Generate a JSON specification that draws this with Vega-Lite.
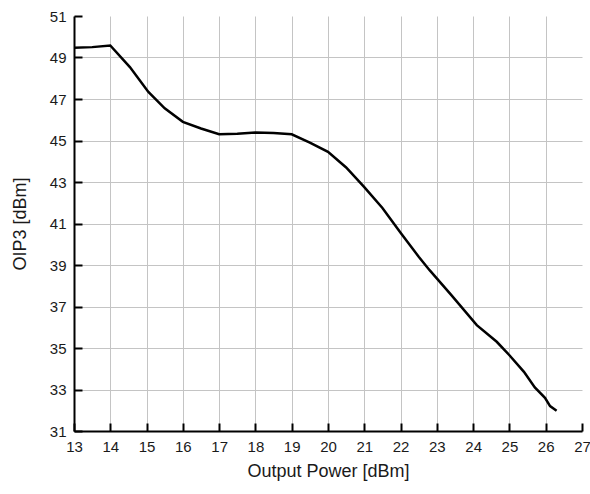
{
  "$schema": "https://vega.github.io/schema/vega-lite/v6.json",
  "autosize": "none",
  "width": 508,
  "height": 415,
  "padding": {"left": 74, "top": 16, "right": 8, "bottom": 63},
  "background": "white",
  "config": {
    "view": {"stroke": null},
    "axis": {
      "labelFont": "Liberation Sans",
      "titleFont": "Liberation Sans",
      "labelFontSize": 15,
      "titleFontSize": 18,
      "titleFontWeight": "normal",
      "labelColor": "#1a1a1a",
      "titleColor": "#1a1a1a",
      "labelFlush": false,
      "labelOverlap": false,
      "domainColor": "black",
      "domainWidth": 2,
      "tickColor": "black",
      "tickWidth": 2,
      "tickSize": -8,
      "gridColor": "#c4c4c4",
      "gridWidth": 1
    }
  },
  "data": {
    "values": [
      {"pout": 13.0, "oip3": 49.47},
      {"pout": 13.5, "oip3": 49.5},
      {"pout": 14.0, "oip3": 49.58},
      {"pout": 14.54, "oip3": 48.54},
      {"pout": 15.05, "oip3": 47.34},
      {"pout": 15.5, "oip3": 46.55},
      {"pout": 16.0, "oip3": 45.9},
      {"pout": 16.5, "oip3": 45.58},
      {"pout": 17.0, "oip3": 45.3},
      {"pout": 17.5, "oip3": 45.33},
      {"pout": 18.0, "oip3": 45.38},
      {"pout": 18.5, "oip3": 45.36},
      {"pout": 19.0, "oip3": 45.3},
      {"pout": 19.5, "oip3": 44.9},
      {"pout": 20.0, "oip3": 44.45},
      {"pout": 20.5, "oip3": 43.7},
      {"pout": 21.0, "oip3": 42.75},
      {"pout": 21.5, "oip3": 41.75},
      {"pout": 22.0, "oip3": 40.55},
      {"pout": 22.5, "oip3": 39.4},
      {"pout": 22.8, "oip3": 38.75},
      {"pout": 23.4, "oip3": 37.55},
      {"pout": 24.1, "oip3": 36.1},
      {"pout": 24.65, "oip3": 35.3},
      {"pout": 25.0, "oip3": 34.65},
      {"pout": 25.4, "oip3": 33.85},
      {"pout": 25.7, "oip3": 33.1},
      {"pout": 25.98, "oip3": 32.6},
      {"pout": 26.12, "oip3": 32.2},
      {"pout": 26.3, "oip3": 31.98}
    ]
  },
  "mark": {"type": "line", "color": "black", "strokeWidth": 2.5, "clip": true},
  "encoding": {
    "x": {
      "field": "pout",
      "type": "quantitative",
      "scale": {"domain": [13, 27], "nice": false, "zero": false},
      "axis": {
        "title": "Output Power [dBm]",
        "values": [13, 14, 15, 16, 17, 18, 19, 20, 21, 22, 23, 24, 25, 26, 27],
        "format": "d",
        "labelPadding": 16,
        "titlePadding": 8,
        "gridOpacity": {"condition": {"test": "datum.value >= 27", "value": 0}, "value": 1}
      }
    },
    "y": {
      "field": "oip3",
      "type": "quantitative",
      "scale": {"domain": [31, 51], "nice": false, "zero": false},
      "axis": {
        "title": "OIP3 [dBm]",
        "values": [31, 33, 35, 37, 39, 41, 43, 45, 47, 49, 51],
        "format": "d",
        "labelPadding": 16,
        "titlePadding": 20,
        "gridOpacity": {"condition": {"test": "datum.value >= 51", "value": 0}, "value": 1}
      }
    }
  }
}
